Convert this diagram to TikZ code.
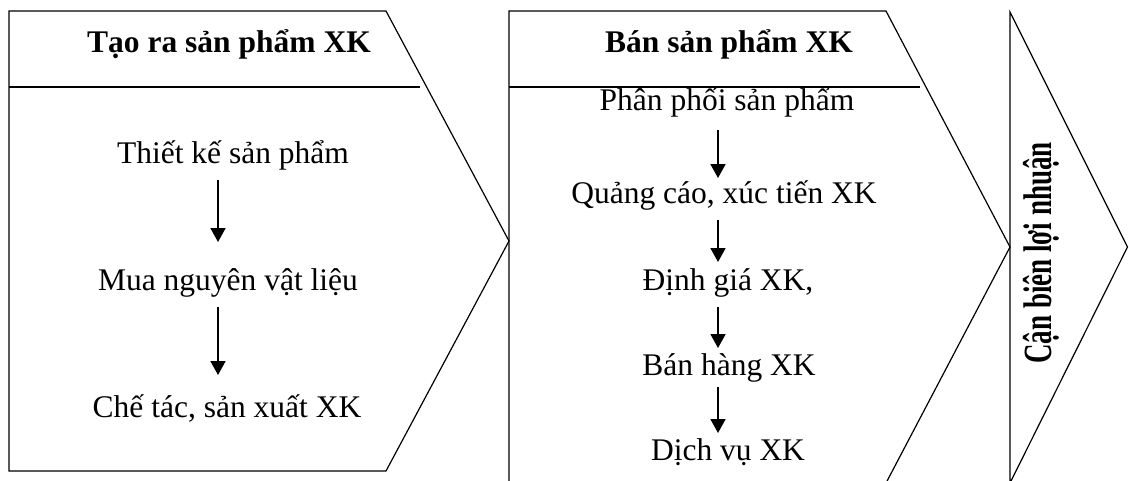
\documentclass[tikz,border=0pt]{standalone}
\usepackage{fontspec}
\setmainfont{Liberation Serif}
\usetikzlibrary{arrows.meta,calc}
\begin{document}
\begin{tikzpicture}[x=1pt,y=-1pt,
  outline/.style={draw, line width=1.2pt, line join=miter},
  divider/.style={draw, line width=1.2pt},
  txt/.style={anchor=base, inner sep=0pt, font=\fontsize{31.5}{36}\selectfont},
  hd/.style={anchor=base, inner sep=0pt, font=\fontsize{31.5}{36}\selectfont\bfseries},
  arr/.style={line width=1.8pt, -{Triangle[width=15pt,length=14pt]}}]
\useasboundingbox (0,0) rectangle (1129,480);
% shapes
\draw[outline] (9,11) -- (386,11) -- (509,241) -- (386,471) -- (9,471) -- cycle;
\draw[divider] (9,87) -- (420,87);
\draw[outline] (509,11) -- (886,11) -- (1010,247) -- (886,483) -- (509,483) -- cycle;
\draw[divider] (509,87) -- (920,87);
\draw[outline] (1010,12) -- (1127.5,247) -- (1010,483) -- cycle;
% column coordinates
\coordinate (c1) at (218,0);
\coordinate (c2) at (718,0);
% texts, first block
\node[hd]  (h1) at (229,52)  {Tạo ra sản phẩm XK};
\node[txt] (t1) at (233,163) {Thiết kế sản phẩm};
\node[txt] (t2) at (228,290) {Mua nguyên vật liệu};
\node[txt] (t3) at (227,417) {Chế tác, sản xuất XK};
% texts, second block
\node[hd]  (h2) at (729,52)  {Bán sản phẩm XK};
\node[txt] (p1) at (727,110) {Phân phối sản phẩm};
\node[txt] (p2) at (724,203) {Quảng cáo, xúc tiến XK};
\node[txt] (p3) at (728,290) {Định giá XK,};
\node[txt] (p4) at (729,375) {Bán hàng XK};
\node[txt] (p5) at (728,460) {Dịch vụ XK};
% third block
\node[anchor=base, inner sep=0pt, rotate=90] (h3) at (1051,253)
  {\scalebox{0.675}[1]{\fontsize{40}{44}\selectfont\bfseries Cận biên lợi nhuận}};
% arrows
\draw[arr] ($(t1.base -| c1)+(0,17)$) -- ($(t2.base -| c1)+(0,-48)$);
\draw[arr] ($(t2.base -| c1)+(0,17)$) -- ($(t3.base -| c1)+(0,-42)$);
\draw[arr] ($(p1.base -| c2)+(0,20)$) -- ($(p2.base -| c2)+(0,-25)$);
\draw[arr] ($(p2.base -| c2)+(0,17)$) -- ($(p3.base -| c2)+(0,-28)$);
\draw[arr] ($(p3.base -| c2)+(0,17)$) -- ($(p4.base -| c2)+(0,-27)$);
\draw[arr] ($(p4.base -| c2)+(0,12)$) -- ($(p5.base -| c2)+(0,-27)$);
\end{tikzpicture}
\end{document}
